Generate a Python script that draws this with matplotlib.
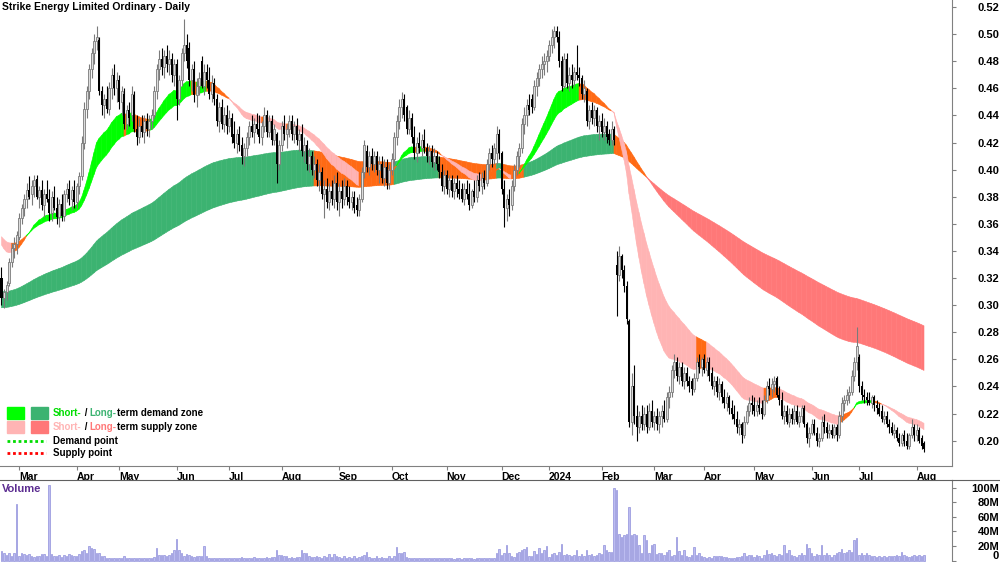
import matplotlib
matplotlib.use("Agg")
import matplotlib.pyplot as plt
from matplotlib.collections import PolyCollection
from matplotlib.patches import Rectangle
from matplotlib.lines import Line2D
import numpy as np
import pandas as pd

plt.rcParams["font.family"] = ["Liberation Sans", "DejaVu Sans"]

TITLE = "Strike Energy Limited Ordinary - Daily"
FIRST_DAY = "2023-02-20"
LAST_DAY = "2024-08-06"
ASX_HOLIDAYS = [
    "2023-04-07", "2023-04-10", "2023-04-25", "2023-06-12", "2023-12-25",
    "2023-12-26", "2024-01-01", "2024-01-26", "2024-03-29", "2024-04-01",
    "2024-04-25", "2024-06-10",
]

# prices in tenths of a cent (415 = $0.415), one row per month
OPENS = [
    320, 305, 310, 316, 332, 342, 345,
    350, 364, 372, 378, 385, 382, 388, 393, 380, 385, 374, 382, 378, 368, 380, 372, 365, 375, 366, 382, 386, 378, 385,
    376, 388, 395, 420, 445, 458, 474, 486, 495, 496, 458, 448, 452, 445, 460, 470, 460,
    466, 450, 456, 434, 444, 440, 455, 430, 424, 432, 428, 436, 430, 436, 440, 458, 474, 482, 476, 484, 478, 482, 470,
    478, 452, 466, 486, 492, 490, 466, 474, 455, 462, 480, 462, 472, 466, 456, 464, 452, 436, 446, 434, 440,
    432, 438, 426, 420, 426, 418, 410, 416, 424, 432, 428, 434, 430, 424, 432, 440, 428, 436, 422, 426, 404,
    418, 432, 426, 430, 436, 426, 432, 422, 426, 414, 418, 404, 410, 400, 404, 392, 398, 382, 386, 376, 384, 378, 390,
    376, 384, 378, 388, 380, 376, 380, 374, 370, 378, 398, 414, 402, 410, 404, 410, 400, 404, 394, 402, 390,
    400, 408, 424, 436, 446, 452, 446, 430, 438, 424, 412, 420, 416, 422, 416, 410, 414, 406, 410, 404, 398, 388,
    396, 386, 392, 384, 390, 386, 386, 378, 386, 382, 374, 384, 380, 392, 388, 394, 390, 404, 412, 408, 412, 426,
    412, 386, 372, 378, 374, 388, 400, 410, 416, 434, 440, 448, 452, 446, 462, 468, 474, 478, 480,
    484, 492, 498, 502, 498, 480, 462, 482, 464, 470, 466, 472, 470, 468, 456, 458, 436, 444, 438, 444, 432,
    436, 428, 432, 426, 422, 430, 330, 322, 336, 326, 314, 288, 214, 240, 218, 210, 218, 212, 220, 210, 222,
    214, 218, 212, 218, 222, 216, 232, 236, 252, 258, 248, 254, 244, 250, 244, 244, 238, 246, 258, 254,
    260, 252, 258, 250, 240, 244, 236, 242, 232, 228, 232, 224, 220, 216, 210, 212, 204, 214, 222, 228,
    226, 222, 226, 224, 220, 230, 240, 238, 242, 246, 234, 230, 218, 222, 214, 220, 216, 222, 214, 218, 224, 212, 202,
    206, 212, 206, 200, 202, 214, 210, 206, 208, 204, 210, 204, 218, 228, 230, 234, 236, 248, 258,
    262, 240, 234, 232, 230, 228, 232, 226, 224, 222, 216, 218, 212, 210, 206, 208, 202, 198, 204, 200, 196, 204, 210,
    204, 208, 202, 198,
]

HIGHS = [
    328, 312, 318, 335, 346, 350, 355,
    368, 375, 382, 390, 395, 392, 396, 396, 388, 392, 386, 392, 386, 384, 388, 380, 378, 382, 385, 390, 392, 388, 392,
    390, 398, 425, 450, 462, 478, 490, 500, 506, 498, 462, 456, 462, 465, 475, 478, 472,
    470, 462, 460, 448, 450, 462, 458, 440, 438, 440, 440, 442, 440, 445, 462, 478, 488, 490, 488, 492, 488, 486, 482,
    482, 470, 490, 511, 500, 494, 478, 480, 468, 472, 484, 478, 478, 476, 470, 468, 456, 450, 452, 446, 448,
    444, 442, 436, 430, 432, 424, 420, 428, 436, 440, 438, 442, 440, 436, 446, 444, 440, 440, 434, 428, 422,
    436, 440, 434, 440, 440, 436, 438, 430, 434, 424, 422, 416, 414, 410, 408, 404, 402, 392, 394, 390, 392, 396, 398,
    390, 392, 394, 392, 388, 384, 384, 380, 382, 402, 422, 418, 414, 416, 414, 414, 410, 410, 408, 408, 404,
    412, 428, 440, 452, 457, 456, 448, 444, 442, 432, 424, 428, 426, 430, 420, 418, 418, 416, 414, 410, 404, 400,
    400, 396, 396, 394, 396, 392, 390, 390, 392, 390, 386, 392, 396, 398, 398, 400, 408, 416, 418, 420, 432, 430,
    414, 392, 382, 386, 392, 404, 414, 420, 438, 446, 452, 456, 456, 466, 472, 478, 484, 486, 488,
    496, 504, 506, 506, 502, 484, 486, 486, 476, 478, 476, 492, 476, 470, 466, 460, 448, 450, 448, 446, 440,
    442, 438, 436, 430, 436, 432, 340, 344, 338, 330, 318, 290, 250, 256, 226, 222, 226, 225, 226, 228, 230,
    222, 224, 222, 226, 230, 236, 240, 256, 264, 262, 258, 258, 254, 254, 248, 246, 250, 262, 264, 262,
    264, 262, 262, 254, 248, 248, 246, 244, 238, 236, 234, 230, 226, 222, 216, 214, 218, 226, 232, 234,
    232, 230, 232, 230, 234, 244, 246, 246, 248, 248, 240, 236, 226, 226, 224, 224, 226, 226, 222, 226, 226, 214, 210,
    216, 216, 210, 206, 218, 220, 214, 212, 212, 212, 212, 222, 232, 234, 238, 240, 252, 262, 284,
    264, 244, 238, 236, 236, 234, 234, 230, 228, 226, 222, 222, 216, 214, 212, 210, 206, 206, 208, 206, 206, 216, 212,
    212, 210, 204, 200,
]

LOWS = [
    300, 298, 304, 314, 328, 335, 338,
    348, 360, 366, 372, 378, 374, 380, 378, 372, 370, 365, 376, 362, 362, 370, 360, 358, 362, 362, 376, 374, 370, 372,
    372, 382, 392, 415, 438, 452, 468, 478, 488, 455, 440, 438, 442, 440, 452, 455, 450,
    445, 440, 430, 430, 432, 436, 428, 418, 420, 424, 420, 425, 424, 430, 438, 452, 466, 470, 468, 472, 470, 465, 462,
    437, 448, 462, 480, 475, 462, 458, 450, 446, 455, 460, 455, 460, 452, 450, 448, 432, 428, 430, 428, 426,
    428, 420, 416, 412, 414, 404, 403, 410, 418, 424, 420, 426, 420, 418, 428, 424, 424, 418, 418, 390, 400,
    414, 422, 416, 424, 422, 420, 418, 414, 410, 406, 400, 398, 396, 394, 388, 384, 378, 364, 372, 370, 374, 372, 370,
    366, 372, 374, 374, 372, 370, 368, 366, 366, 376, 394, 398, 396, 400, 398, 396, 390, 390, 388, 386, 386,
    396, 404, 418, 430, 438, 436, 426, 426, 420, 408, 406, 412, 410, 412, 406, 404, 402, 400, 400, 394, 384, 382,
    382, 380, 380, 378, 380, 378, 376, 374, 378, 370, 372, 376, 376, 384, 382, 386, 388, 400, 402, 404, 404, 408,
    382, 358, 362, 366, 370, 384, 396, 402, 412, 426, 432, 440, 442, 444, 454, 462, 468, 470, 472,
    480, 486, 490, 494, 476, 458, 460, 460, 458, 460, 462, 466, 462, 452, 450, 432, 430, 434, 432, 428, 422,
    424, 422, 420, 418, 418, 418, 292, 318, 320, 310, 286, 210, 204, 212, 200, 206, 208, 208, 206, 208, 210,
    208, 208, 206, 210, 214, 214, 224, 232, 246, 244, 242, 240, 238, 240, 236, 234, 236, 244, 250, 248,
    250, 248, 244, 238, 234, 232, 230, 228, 224, 222, 220, 216, 212, 206, 204, 198, 202, 212, 218, 220,
    218, 218, 220, 216, 218, 228, 234, 232, 236, 232, 226, 216, 212, 212, 210, 212, 212, 212, 210, 214, 210, 198, 195,
    204, 204, 196, 195, 200, 206, 202, 202, 202, 202, 200, 202, 214, 222, 226, 228, 234, 244, 252,
    236, 230, 228, 226, 226, 224, 222, 220, 218, 214, 212, 210, 206, 204, 202, 200, 196, 196, 196, 194, 194, 202, 200,
    200, 198, 194, 192,
]

CLOSES = [
    305, 310, 315, 332, 342, 345, 352,
    364, 372, 378, 385, 380, 388, 392, 380, 385, 374, 382, 378, 368, 380, 372, 365, 375, 366, 382, 386, 378, 385, 376,
    388, 395, 420, 445, 458, 474, 486, 495, 498, 458, 448, 452, 445, 460, 470, 460, 466,
    450, 458, 434, 444, 438, 456, 430, 424, 432, 428, 436, 430, 436, 440, 458, 474, 482, 476, 484, 478, 482, 470, 478,
    452, 466, 486, 492, 480, 466, 474, 455, 462, 468, 462, 472, 466, 456, 464, 452, 436, 446, 434, 440, 432,
    438, 424, 420, 426, 418, 410, 416, 424, 432, 428, 434, 430, 424, 432, 440, 428, 436, 422, 430, 404, 418,
    432, 426, 430, 436, 426, 432, 422, 426, 414, 418, 404, 410, 400, 404, 392, 398, 382, 386, 376, 384, 378, 390, 376,
    384, 378, 388, 380, 376, 380, 372, 370, 378, 398, 418, 402, 410, 404, 410, 400, 404, 394, 402, 390, 400,
    408, 424, 436, 446, 452, 440, 430, 438, 424, 412, 420, 416, 422, 416, 410, 414, 406, 410, 404, 398, 388, 396,
    386, 392, 384, 390, 386, 382, 378, 386, 382, 374, 384, 380, 392, 388, 394, 390, 404, 412, 408, 416, 426, 412,
    386, 372, 378, 374, 388, 400, 410, 416, 434, 440, 448, 444, 446, 462, 468, 474, 478, 480, 484,
    492, 498, 502, 498, 480, 462, 482, 464, 470, 466, 472, 470, 468, 456, 460, 436, 444, 438, 444, 432, 436,
    428, 432, 424, 422, 430, 422, 322, 336, 326, 314, 290, 214, 240, 218, 210, 218, 212, 220, 210, 222, 214,
    218, 212, 218, 222, 216, 232, 236, 252, 258, 248, 254, 244, 250, 244, 240, 238, 246, 258, 254, 260,
    252, 258, 248, 240, 244, 236, 242, 232, 228, 232, 224, 220, 216, 210, 212, 204, 214, 222, 228, 226,
    222, 226, 224, 220, 230, 240, 238, 242, 244, 234, 230, 218, 222, 214, 220, 216, 222, 214, 218, 224, 212, 202, 206,
    212, 206, 200, 202, 214, 210, 206, 208, 204, 210, 204, 218, 228, 230, 234, 236, 248, 258, 270,
    240, 234, 232, 230, 228, 232, 226, 224, 220, 216, 218, 212, 210, 206, 208, 202, 198, 204, 200, 196, 204, 210, 204,
    208, 200, 196, 194,
]

# daily volume in millions of shares
VOLUME_M = [
    13, 10, 8, 10, 6, 10, 78,
    6, 10, 9, 8, 9, 6, 5, 7, 6, 9, 9, 7, 103, 9, 6, 6, 8, 5, 8, 7, 9, 8, 6,
    7, 9, 13, 14, 11, 20, 17, 16, 11, 10, 7, 7, 4, 4, 3, 3, 3,
    3, 3, 6, 3, 3, 3, 3, 3, 3, 3, 3, 3, 3, 4, 5, 18, 8, 8, 8, 7, 8, 10, 14,
    30, 14, 10, 6, 9, 8, 6, 5, 6, 6, 7, 20, 6, 3, 3, 3, 3, 3, 3, 3, 3,
    4, 3, 4, 4, 3, 5, 3, 4, 3, 4, 5, 3, 4, 4, 3, 5, 3, 5, 5, 15, 8,
    8, 6, 6, 4, 5, 4, 5, 5, 15, 10, 10, 6, 5, 5, 6, 5, 4, 6, 5, 9, 5, 9, 6,
    5, 4, 6, 4, 5, 4, 6, 3, 5, 6, 8, 12, 5, 4, 4, 7, 4, 5, 4, 3, 6,
    4, 6, 19, 11, 11, 12, 5, 4, 3, 4, 3, 3, 3, 4, 3, 3, 3, 3, 4, 3, 3, 4,
    3, 3, 3, 2, 3, 3, 2, 3, 3, 3, 3, 2, 3, 3, 3, 3, 4, 4, 4, 4, 10, 16,
    8, 10, 21, 10, 6, 5, 10, 12, 14, 16, 19, 7, 7, 13, 9, 17, 10, 15, 20,
    5, 9, 10, 8, 12, 23, 8, 9, 8, 6, 8, 15, 6, 9, 6, 15, 8, 9, 6, 8, 10,
    9, 21, 14, 12, 12, 99, 97, 37, 33, 35, 37, 74, 35, 37, 35, 21, 11, 35, 29, 11, 21,
    23, 9, 10, 10, 8, 12, 15, 6, 8, 32, 13, 8, 15, 6, 5, 8, 19, 8, 10, 6,
    5, 4, 5, 4, 6, 6, 7, 6, 5, 5, 4, 4, 4, 5, 5, 7, 10, 6, 8, 8,
    5, 8, 7, 4, 8, 15, 9, 10, 8, 6, 9, 8, 21, 10, 15, 8, 6, 5, 8, 10, 8, 23, 17,
    10, 6, 9, 8, 21, 8, 10, 8, 5, 8, 10, 12, 16, 10, 12, 14, 12, 29, 31,
    8, 10, 8, 10, 8, 6, 6, 5, 6, 5, 6, 5, 7, 6, 7, 8, 7, 12, 8, 6, 5, 6, 8,
    6, 8, 7, 8,
]

# ribbon settings: EMA spans, where each ribbon sits on the first day,
# and how many days back the slope is measured
SHORT_SPANS = (23, 38)
LONG_SPANS = (130, 220)
SHORT_START = (0.348, 0.353)
LONG_START = (0.310, 0.298)
SHORT_LOOKBACK = 2
LONG_LOOKBACK = 10

PRICE_TICKS = [0.20, 0.22, 0.24, 0.26, 0.28, 0.30, 0.32, 0.34, 0.36, 0.38,
               0.40, 0.42, 0.44, 0.46, 0.48, 0.50, 0.52]
VOLUME_TICKS = [0, 20, 40, 60, 80, 100]

SHORT_UP, SHORT_DOWN = "#00ff00", "#ffb4b4"
LONG_UP, LONG_DOWN = "#3cb371", "#ff7878"
MIXED = "#ff6a14"


def ema(values, span, start):
    alpha = 2.0 / (span + 1)
    out = []
    prev = start
    for v in values:
        prev = prev + alpha * (v - prev)
        out.append(prev)
    return np.array(out)


def band_colors(fast, slow, up_col, down_col, lookback):
    cols = []
    for i in range(1, len(fast)):
        j = max(i - lookback, 0)
        rising = fast[i] >= fast[j] - 1e-4
        above = fast[i] >= slow[i]
        if above and rising:
            cols.append(up_col)
        elif not above and not rising:
            cols.append(down_col)
        else:
            cols.append(MIXED)
    return cols


def draw_band(ax, x, fast, slow, cols, z):
    verts = []
    for i in range(len(x) - 1):
        lo0, hi0 = sorted((fast[i], slow[i]))
        lo1, hi1 = sorted((fast[i + 1], slow[i + 1]))
        verts.append([(x[i], lo0), (x[i + 1], lo1), (x[i + 1], hi1), (x[i], hi0)])
    pc = PolyCollection(verts, facecolors=cols, edgecolors=cols, linewidths=0.4, zorder=z)
    ax.add_collection(pc)


def fx(px):
    return px / 1000.0


def fy(py):
    return 1 - py / 562.0


def main():
    dates = pd.bdate_range(FIRST_DAY, LAST_DAY)
    dates = dates[~dates.isin(pd.to_datetime(ASX_HOLIDAYS))]
    n = min(len(dates), len(CLOSES), len(OPENS), len(HIGHS), len(LOWS), len(VOLUME_M))
    dates = dates[:n]

    o = np.array(OPENS[:n]) / 1000.0
    h = np.array(HIGHS[:n]) / 1000.0
    l = np.array(LOWS[:n]) / 1000.0
    c = np.array(CLOSES[:n]) / 1000.0
    vol = np.array(VOLUME_M[:n], dtype=float)
    x = np.arange(n)

    fig = plt.figure(figsize=(10, 5.62), dpi=100)
    ax_p = fig.add_axes([0, 96 / 562, 0.952, 466 / 562])
    ax_v = fig.add_axes([0, 0, 0.952, 82 / 562])

    # ribbons
    lf = ema(c, LONG_SPANS[0], LONG_START[0])
    ls = ema(c, LONG_SPANS[1], LONG_START[1])
    sf = ema(c, SHORT_SPANS[0], SHORT_START[0])
    ss = ema(c, SHORT_SPANS[1], SHORT_START[1])
    draw_band(ax_p, x, lf, ls, band_colors(lf, ls, LONG_UP, LONG_DOWN, LONG_LOOKBACK), 1)
    draw_band(ax_p, x, sf, ss, band_colors(sf, ss, SHORT_UP, SHORT_DOWN, SHORT_LOOKBACK), 2)

    # candles
    up = c >= o
    dn = ~up
    ax_p.vlines(x[up], l[up], h[up], color="#7a7a7a", lw=0.8, zorder=3)
    ax_p.vlines(x[dn], l[dn], h[dn], color="black", lw=0.8, zorder=3)
    body = np.maximum(np.abs(c - o), 0.0008)
    ax_p.bar(x[up], body[up], bottom=o[up], width=0.8, facecolor="#dcdcdc",
             edgecolor="#7a7a7a", linewidth=0.6, zorder=4)
    ax_p.bar(x[dn], body[dn], bottom=c[dn], width=0.8, color="black", zorder=4)

    ax_p.set_xlim(-0.6, 380.2)
    ax_p.set_ylim(0.1813, 0.5252)

    ticks, labels = [], []
    for i in range(1, n):
        if dates[i].month != dates[i - 1].month:
            ticks.append(i)
            labels.append(str(dates[i].year) if dates[i].month == 1 else dates[i].strftime("%b"))
    ax_p.set_xticks(ticks)
    ax_p.set_xticklabels(labels, ha="left", fontsize=7.5, fontweight="bold")
    ax_p.tick_params(axis="x", direction="out", length=3, width=0.8, color="#808080", pad=1)

    ax_p.yaxis.tick_right()
    ax_p.set_yticks(PRICE_TICKS)
    ax_p.set_yticklabels([f"{t:.2f}" for t in PRICE_TICKS], fontsize=8, fontweight="bold", ha="right")
    ax_p.tick_params(axis="y", direction="out", length=3, width=0.8, color="#808080", pad=31)

    for side in ("left", "top"):
        ax_p.spines[side].set_visible(False)
    for side in ("bottom", "right"):
        ax_p.spines[side].set_color("#808080")

    # volume
    ax_v.bar(x, vol, width=0.5, facecolor="#bcbcf0", edgecolor="#7c7cd4", linewidth=0.4)
    ax_v.set_xlim(-0.6, 380.2)
    ax_v.set_ylim(-1.8, 110.5)
    ax_v.set_xticks([])
    ax_v.yaxis.tick_right()
    ax_v.set_yticks(VOLUME_TICKS)
    ax_v.set_yticklabels([f"{t}M" if t else "0" for t in VOLUME_TICKS], fontsize=8,
                         fontweight="bold", ha="right")
    ax_v.get_yticklabels()[0].set_va("bottom")
    ax_v.tick_params(axis="y", direction="out", length=3, width=0.8, color="#808080", pad=31)
    for side in ("left", "bottom"):
        ax_v.spines[side].set_visible(False)
    ax_v.spines["top"].set_color("#606060")
    ax_v.spines["right"].set_color("#808080")
    fig.add_artist(Line2D([0.952, 1.0], [fy(480), fy(480)], color="#606060", lw=0.8,
                          transform=fig.transFigure))

    fig.text(fx(2), fy(7), TITLE, fontsize=7.5, fontweight="bold", va="center", ha="left")
    fig.text(fx(2), fy(489), "Volume", fontsize=8, fontweight="bold", color="#5c2d91",
             va="center", ha="left")

    # legend
    rows = [(SHORT_UP, LONG_UP, "#00dd00", "term demand zone"),
            (SHORT_DOWN, LONG_DOWN, SHORT_DOWN, "term supply zone")]
    for row, (short_col, long_col, word_col, tail) in enumerate(rows):
        top = 407 + row * 14
        fig.add_artist(Rectangle((fx(7), fy(top + 12)), fx(17), 12 / 562, color=short_col,
                                 transform=fig.transFigure))
        fig.add_artist(Rectangle((fx(31), fy(top + 12)), fx(17), 12 / 562, color=long_col,
                                 transform=fig.transFigure))
        pieces = [(" / ", "black"), ("Long-", long_col), (tail, "black")]
        prev = fig.text(fx(53), fy(top + 6), "Short-", color=word_col, fontsize=7,
                        fontweight="bold", va="center", ha="left")
        for txt, col in pieces:
            prev = ax_p.annotate(txt, xy=(1, 0.5), xycoords=prev, va="center", ha="left",
                                 color=col, fontsize=7, fontweight="bold")

    for yy, col, txt in [(441, "#00dd00", "Demand point"), (453, "#ff0000", "Supply point")]:
        fig.add_artist(Line2D([fx(7), fx(46)], [fy(yy), fy(yy)], color=col, lw=2,
                              linestyle=(0, (1, 1)), transform=fig.transFigure))
        fig.text(fx(53), fy(yy), txt, fontsize=7, fontweight="bold", va="center", ha="left")

    fig.savefig("out.png", dpi=100)


if __name__ == "__main__":
    main()
